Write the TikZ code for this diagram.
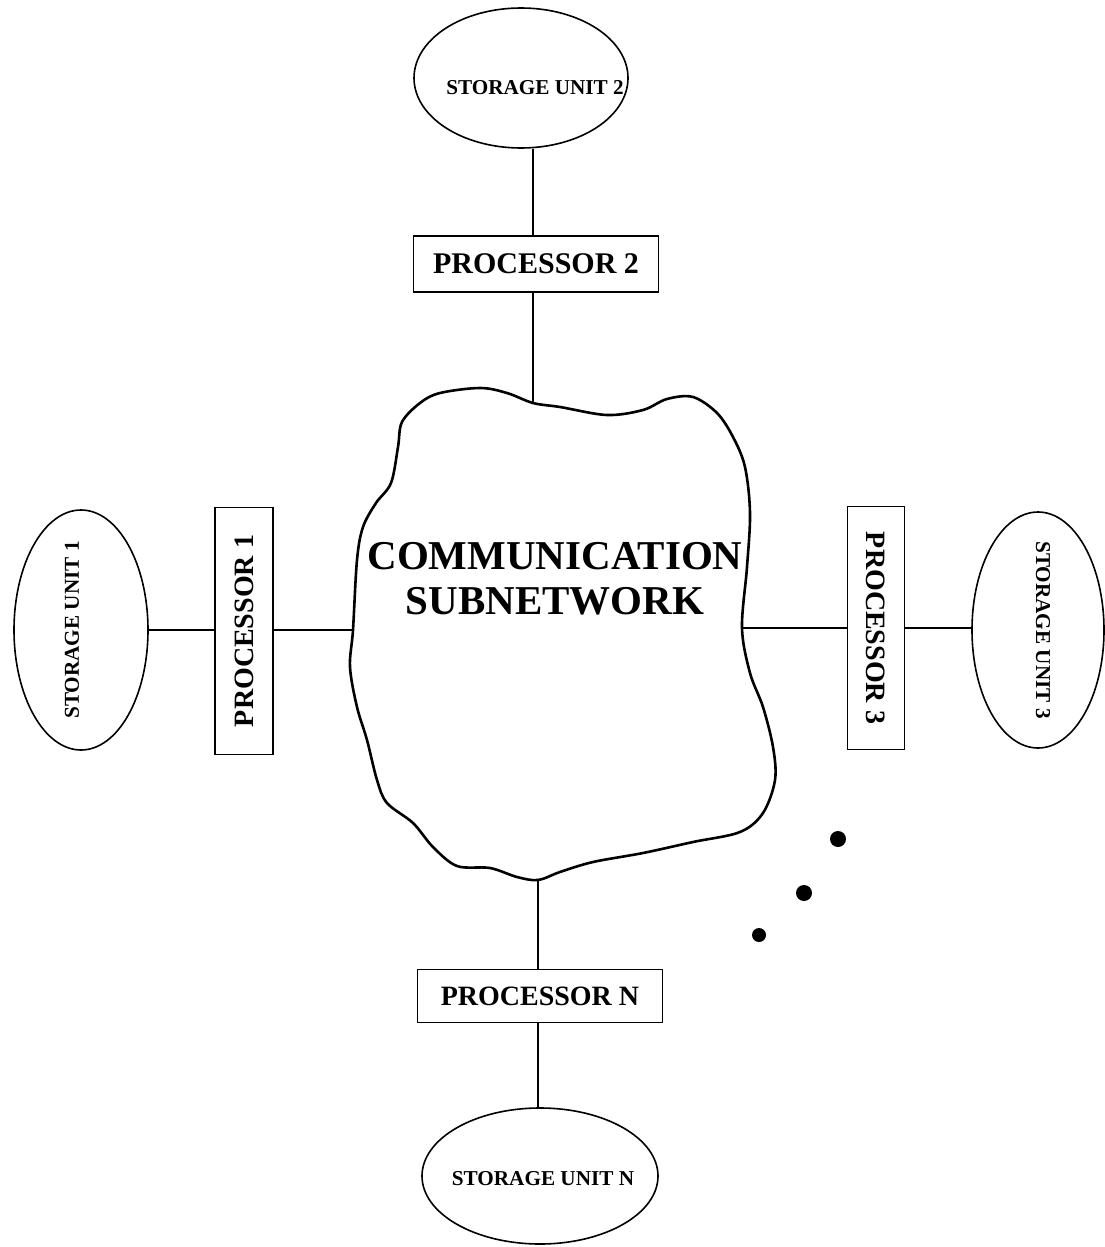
\documentclass[tikz,border=0pt]{standalone}
\usepackage{fontspec}
\usepackage{graphicx}
\setmainfont{Liberation Serif}
\usetikzlibrary{shapes.geometric}
\begin{document}
\begin{tikzpicture}[x=0.5pt,y=-0.5pt,
  wire/.style={line width=0.9pt},
  store/.style={draw, ellipse, line width=0.8pt, inner sep=0pt},
  storetext/.style={font=\bfseries\fontsize{10.6}{12}\selectfont, inner sep=0pt},
  proc/.style={draw, rectangle, line width=0.9pt, inner sep=0pt,
    font=\bfseries\fontsize{14}{16}\selectfont},
  cloudline/.style={line width=1.3pt, line join=round},
  dot/.style={circle, fill, inner sep=0pt, minimum size=8pt}]
\useasboundingbox (0,0) rectangle (1104,1247);

% communication subnetwork outline
\draw[cloudline] plot[smooth cycle, tension=0.55] coordinates {
  (533,403) (560,407) (607,415) (643,410) (667,399) (693,397) (717,413)
  (733,437) (745,467) (750,513) (747,567) (742,628) (750,673) (763,707)
  (773,747) (775,780) (763,813) (740,832) (693,842) (643,853) (593,862)
  (560,872) (538,880) (517,877) (490,868) (457,866) (433,847) (413,823)
  (387,803) (377,780) (367,740) (357,707) (350,667) (353,630) (357,560)
  (363,527) (376,503) (391,483) (398,447) (402,422) (420,403)
  (440,393) (480,388) (507,393)};
\coordinate (ctop) at (533,403);
\coordinate (cleft) at (353,630);
\coordinate (cright) at (742,628);
\coordinate (cbot) at (538,880);
\node[align=center, inner sep=0pt, font=\bfseries\fontsize{20.5}{22.5}\selectfont]
  (net) at (555,579) {COMMUNICATION\\SUBNETWORK};

% storage units
\node[store, minimum width=107pt, minimum height=70pt] (s2) at (521,78) {};
\node[storetext] (s2t) at ([xshift=7pt,yshift=-5pt]s2.center) {STORAGE UNIT 2};
\node[store, minimum width=67pt, minimum height=120pt] (s1) at (81,630) {};
\node[storetext, rotate=90] (s1t) at ([xshift=-4.5pt]s1.center) {STORAGE UNIT 1};
\node[store, minimum width=66pt, minimum height=118pt] (s3) at (1038,630) {};
\node[storetext, rotate=-90] (s3t) at ([xshift=2.5pt]s3.center) {STORAGE UNIT 3};
\node[store, minimum width=118pt, minimum height=68pt] (sn) at (540,1176) {};
\node[storetext] (snt) at ([xshift=1.5pt,yshift=-1.5pt]sn.center) {STORAGE UNIT N};

% processors
\node[proc, minimum width=122.5pt, minimum height=28pt,
  font=\bfseries\fontsize{15}{17}\selectfont] (p2) at (536,264) {PROCESSOR 2};
\node[proc, minimum width=29pt, minimum height=123.5pt] (p1) at (244,631)
  {\rotatebox{90}{PROCESSOR 1}};
\node[proc, minimum width=28.5pt, minimum height=121.5pt] (p3) at (876,628)
  {\rotatebox{-90}{PROCESSOR 3}};
\node[proc, minimum width=122.5pt, minimum height=26.5pt] (pn) at (540,996)
  {PROCESSOR N};

% links
\draw[wire] (ctop |- s2.south) -- (ctop |- p2.north);
\draw[wire] (ctop |- p2.south) -- (ctop);
\draw[wire] (s1.east) -- (p1.west |- s1.east);
\draw[wire] (p1.east |- cleft) -- (cleft);
\draw[wire] (cright) -- (p3.west |- cright);
\draw[wire] (p3.east |- cright) -- (s3.west |- cright);
\draw[wire] (cbot) -- (cbot |- pn.north);
\draw[wire] (cbot |- pn.south) -- (cbot |- sn.north);

% further processors
\node[dot] (dot1) at (838,839) {};
\node[dot] (dot2) at (804,893) {};
\node[dot, minimum size=7pt] (dot3) at (759,935) {};
\end{tikzpicture}
\end{document}
